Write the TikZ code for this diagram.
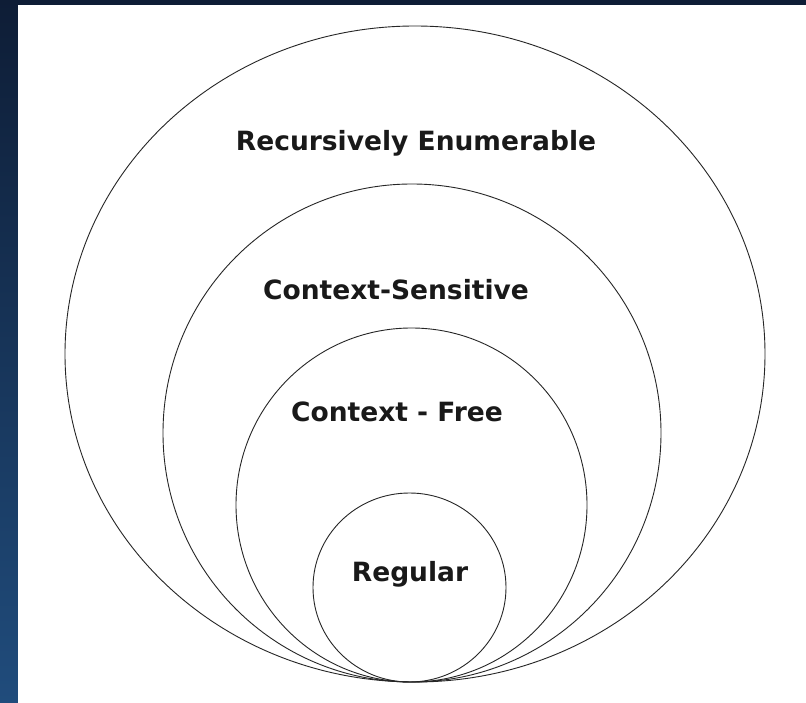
\documentclass[tikz,border=0pt]{standalone}
\usepackage{fontspec}
\setmainfont{DejaVu Sans}
\usetikzlibrary{positioning}

\begin{document}
\begin{tikzpicture}[x = 1pt, y = -1pt, semithick, set/.style = {draw = black!85, line width = 0.9pt}, lang/.style = {font = \bfseries\fontsize{26.5}{30}\selectfont, text = black!90}]
\shade[top color = {rgb,255:red,14;green,29;blue,54}, bottom color = {rgb,255:red,32;green,76;blue,124}] (0,0) rectangle (806,703);
\fill[white] (18,5) rectangle (806,703);

\draw[set] (415,354) ellipse [x radius = 350, y radius = 328];
\draw[set] (412,433) ellipse [x radius = 249, y radius = 249];
\draw[set] (411.5,505) ellipse [x radius = 175.5, y radius = 177];
\draw[set] (409.5,587.5) ellipse [x radius = 96.5, y radius = 94.5];

\node[lang] (re) at (416,143) {Recursively Enumerable};
\node[lang] (cs) at (396,290) {Context-Sensitive};
\node[lang] (cf) at (397,412) {Context - Free};
\node[lang] (reg) at (410,574) {Regular};
\end{tikzpicture}
\end{document}
